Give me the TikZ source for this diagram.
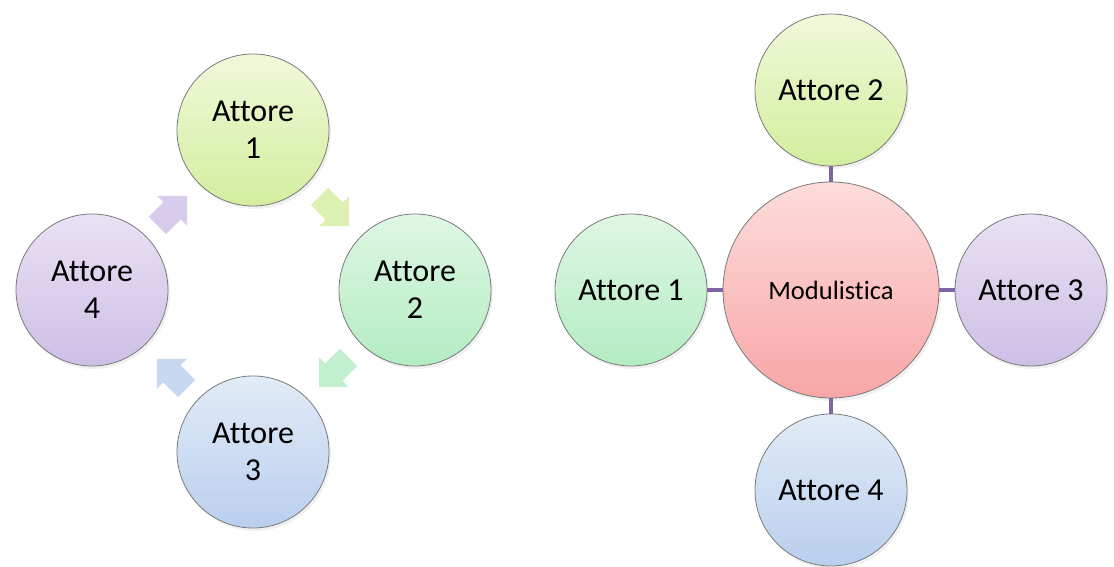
\documentclass[tikz,border=0pt]{standalone}
\usepackage{fontspec}
\setmainfont[Ligatures=NoCommon]{Carlito}
\usepackage{tikz}
\usetikzlibrary{shapes.arrows,shadows}

\definecolor{lineA}{HTML}{8064A2}
\definecolor{rimA}{HTML}{7A7A7A}

\begin{document}
\begin{tikzpicture}[x=1pt,y=1pt,
        actor/.style={circle,draw=rimA,line width=0.8pt,minimum size=152pt,inner sep=0pt,
            align=center,font=\fontsize{32}{37}\selectfont,
            drop shadow={opacity=0.12,shadow xshift=2pt,shadow yshift=-3pt}},
        yg/.style={top color=yg1,bottom color=yg2},
        gr/.style={top color=gr1,bottom color=gr2},
        pu/.style={top color=pu1,bottom color=pu2},
        bl/.style={top color=bl1,bottom color=bl2},
        flow/.style={single arrow,minimum height=42pt,inner sep=12pt,
            single arrow head extend=9pt,single arrow head indent=0pt,draw=none},
        link/.style={lineA,line width=4.5pt}]
        \definecolor{yg1}{HTML}{F0F9DA}\definecolor{yg2}{HTML}{D3EE9E}
        \definecolor{gr1}{HTML}{DFF7E4}\definecolor{gr2}{HTML}{B3ECC2}
        \definecolor{pu1}{HTML}{E9E1F4}\definecolor{pu2}{HTML}{CDBFE6}
        \definecolor{bl1}{HTML}{E2EBF7}\definecolor{bl2}{HTML}{B9CFEE}
        \definecolor{rd1}{HTML}{FDDCDC}\definecolor{rd2}{HTML}{F8A6A6}

        \useasboundingbox (0,0) rectangle (1114,567);

        % ciclo
        \node[actor,yg] (a1) at (253,437) {Attore\\1};
        \node[actor,gr] (a2) at (415,277) {Attore\\2};
        \node[actor,bl] (a3) at (253,115) {Attore\\3};
        \node[actor,pu] (a4) at (92,277) {Attore\\4};

        \node[flow,fill=yg2!80] (f12) at (330,360) [rotate=-45] {};
        \node[flow,fill=gr2!80] (f23) at (338,199) [rotate=-135] {};
        \node[flow,fill=bl2!80] (f34) at (176,189) [rotate=135] {};
        \node[flow,fill=pu2!80] (f41) at (168,352) [rotate=45] {};

        % modulistica
        \node[actor,minimum size=216pt,top color=rd1,bottom color=rd2,
            font=\fontsize{26.5}{30}\selectfont] (mod) at (831,277) {Modulistica};
        \node[actor,yg] (b2) at (831,477) {Attore 2};
        \node[actor,gr] (b1) at (631,277) {Attore 1};
        \node[actor,pu] (b3) at (1031,277) {Attore 3};
        \node[actor,bl] (b4) at (831,77) {Attore 4};

        \draw[link] (mod) -- (b2);
        \draw[link] (mod) -- (b1);
        \draw[link] (mod) -- (b3);
        \draw[link] (mod) -- (b4);

    \end{tikzpicture}
\end{document}
